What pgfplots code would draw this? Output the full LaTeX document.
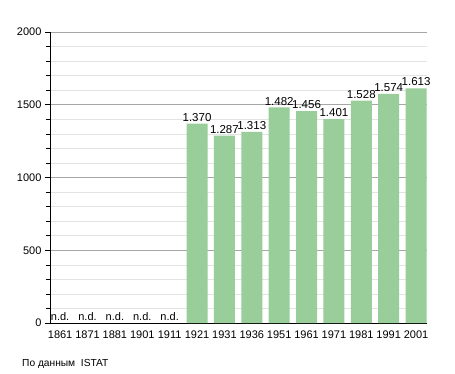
\documentclass[border=0pt]{standalone}
\usepackage{fontspec}
\setmainfont{Liberation Sans}
\usepackage{pgfplots}
\pgfplotsset{compat=1.18}
\usepackage{pgfplotstable}
\definecolor{barg}{RGB}{153,205,153}
\pgfplotstableread{
x y lab
5 1370 1.370
6 1287 1.287
7 1313 1.313
8 1482 1.482
9 1456 1.456
10 1401 1.401
11 1528 1.528
12 1574 1.574
13 1613 1.613
}\bars
\pgfplotstableread{
x y lab
0 0 n.d.
1 0 n.d.
2 0 n.d.
3 0 n.d.
4 0 n.d.
}\nd
\begin{document}
\begin{tikzpicture}[x=1pt,y=1pt]
\useasboundingbox (0,0) rectangle (455,373);
\begin{axis}[
  at={(50pt,50pt)}, anchor=south west,
  scale only axis, width=377pt, height=291pt,
  xmin=-0.37, xmax=13.4, ymin=0, ymax=2000,
  axis x line*=bottom, axis y line*=left,
  axis line style={-, black, line width=0.8pt},
  xtick={0,...,13},
  xticklabels={1861,1871,1881,1901,1911,1921,1931,1936,1951,1961,1971,1981,1991,2001},
  xtick style={draw=none},
  ytick={0,500,1000,1500,2000},
  minor y tick num=4,
  ytick style={black, line width=0.6pt},
  major tick length=5pt, minor tick length=4pt,
  tick align=outside,
  ymajorgrids, yminorgrids,
  major grid style={gray!70, line width=0.6pt},
  minor grid style={gray!22, line width=0.6pt},
  tick label style={font=\fontsize{11}{13}\selectfont},
  /pgf/number format/assume math mode=true,
  y tick label style={/pgf/number format/1000 sep={}},
  xticklabel style={yshift=1pt},
  clip=false,
]
\addplot[ybar, bar width=21pt, fill=barg, draw=none,
  nodes near coords, point meta=explicit symbolic,
  nodes near coords style={font=\fontsize{11.5}{13}\selectfont, inner sep=1pt, yshift=1pt}]
  table[x=x, y=y, meta=lab] {\bars};
\addplot[only marks, mark=none,
  nodes near coords, point meta=explicit symbolic,
  nodes near coords style={font=\fontsize{11}{13}\selectfont, inner sep=1pt, yshift=1pt}]
  table[x=x, y=y, meta=lab] {\nd};
\end{axis}
\node[anchor=base west, font=\fontsize{10.2}{12}\selectfont, inner sep=0pt] at (22,7) {По данным\ \ ISTAT};
\end{tikzpicture}
\end{document}
